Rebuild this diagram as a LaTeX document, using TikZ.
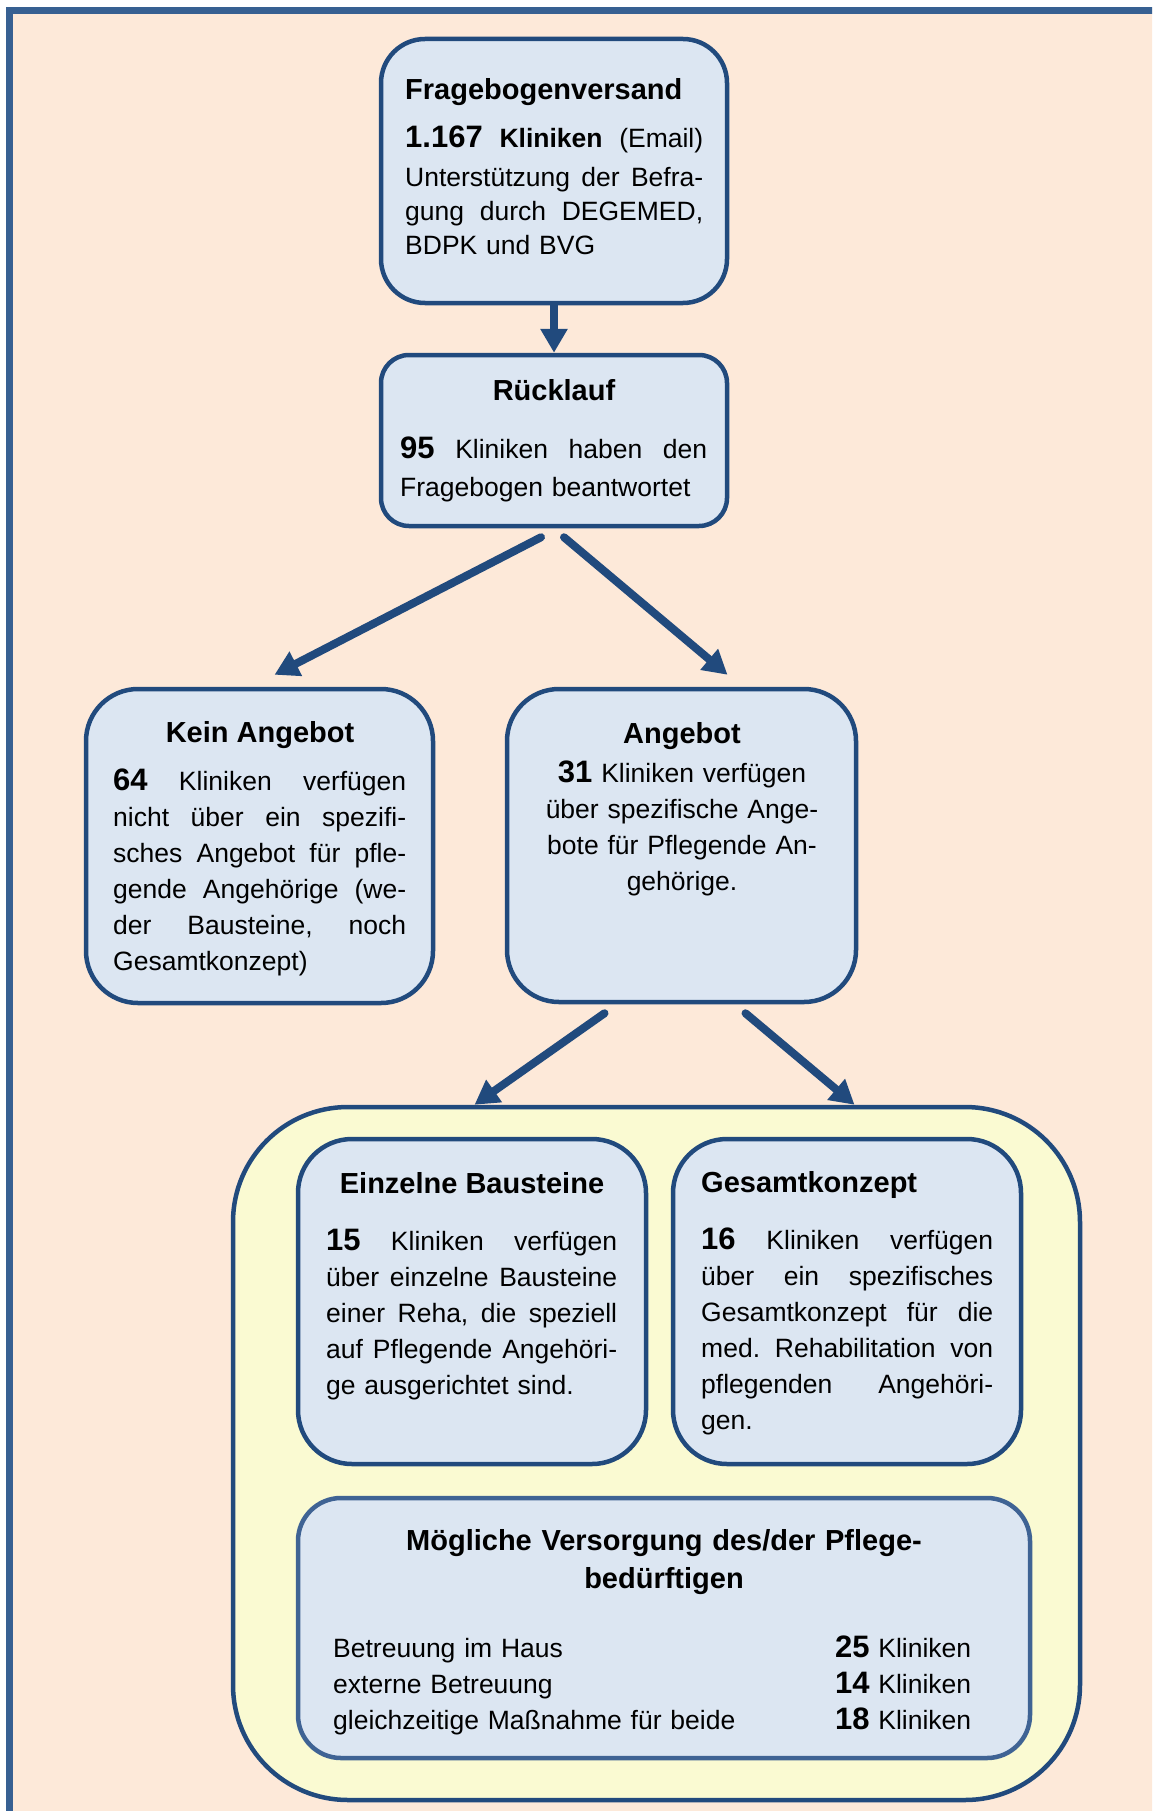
\documentclass[tikz,border=0pt]{standalone}
\usepackage{fontspec}
\setmainfont{Liberation Sans}
\usetikzlibrary{positioning,calc,arrows.meta}

\definecolor{hintergrund}{RGB}{253,233,217}
\definecolor{rahmen}{RGB}{55,96,146}
\definecolor{kastenblau}{RGB}{220,230,242}
\definecolor{randblau}{RGB}{33,74,125}
\definecolor{versorgblau}{RGB}{63,99,148}
\definecolor{gruppengelb}{RGB}{250,250,210}

\newlength{\zeile}
\newcommand{\bignum}[1]{{\fontsize{31}{36}\selectfont\bfseries #1}}
\newcommand{\fullline}[1]{\leavevmode\hbox to \zeile{#1}}
\frenchspacing

\begin{document}
\begin{tikzpicture}[x=1pt,y=-1pt,
  box/.style={rectangle,draw=randblau,line width=4.5pt,fill=kastenblau},
  titel/.style={font=\fontsize{29}{38}\selectfont\bfseries,inner sep=0pt},
  txt/.style={font=\fontsize{26.5}{36}\selectfont,inner sep=0pt,align=left,
    text width=#1,execute at begin node={\setlength{\zeile}{#1}}},
  pfeil/.style={draw=randblau,line width=8pt,line cap=round,-{Triangle[length=24pt,width=26pt]}}]
\useasboundingbox (0,0) rectangle (1152,1811);
\clip (0,0) rectangle (1152,1811);
\fill[white] (0,0) rectangle (1152,1811);
\fill[hintergrund] (6,7) rectangle (1170,1830);
\draw[rahmen,line width=7pt] (9.5,1830) -- (9.5,10.5) -- (1170,10.5);

\node[box,rounded corners=44pt,minimum width=346pt,minimum height=264pt] (frage) at (554,171) {};
\node[box,rounded corners=28pt,minimum width=346pt,minimum height=171pt] (ruecklauf) at (554,440.5) {};
\node[box,rounded corners=52pt,minimum width=347pt,minimum height=314pt] (kein) at (259.5,846) {};
\node[box,rounded corners=52pt,minimum width=349pt,minimum height=313pt] (angebot) at (681.5,845.5) {};
\node[box,fill=gruppengelb,rounded corners=115pt,minimum width=847pt,minimum height=693pt] (gruppe) at (656.5,1453.5) {};
\node[box,rounded corners=54pt,minimum width=348pt,minimum height=325pt] (bausteine) at (472,1301.5) {};
\node[box,rounded corners=54pt,minimum width=348pt,minimum height=325pt] (konzept) at (847,1301.5) {};
\node[box,draw=versorgblau,rounded corners=43pt,minimum width=732pt,minimum height=260pt] (versorgung) at (664,1628) {};

\node[titel,anchor=base west] (frage-titel) at (405,100) {Fragebogenversand};
\node[txt=298pt,font=\fontsize{26.5}{34}\selectfont,anchor=base west] (frage-text) at (405,148)
  {\fullline{\bignum{1.167}\hfill\textbf{Kliniken}\hfill(Email)}\\[5pt]
   \fullline{Unterstützung\hfill der\hfill Befra-}\\
   \fullline{gung\hfill durch\hfill DEGEMED,}\\
   BDPK und BVG};

\node[titel,anchor=base] (ruecklauf-titel) at (554,400) {Rücklauf};
\node[txt=307pt,font=\fontsize{26.5}{38}\selectfont,anchor=base west] (ruecklauf-text) at (400,458)
  {\fullline{\bignum{95}\hfill Kliniken\hfill haben\hfill den}\\
   Fragebogen beantwortet};

\node[titel,anchor=base] (kein-titel) at (260,742) {Kein Angebot};
\node[txt=293pt,anchor=base west] (kein-text) at (113,790)
  {\fullline{\bignum{64}\hfill Kliniken\hfill verfügen}\\
   \fullline{nicht\hfill über\hfill ein\hfill spezifi-}\\
   \fullline{sches\hfill Angebot\hfill für\hfill pfle-}\\
   \fullline{gende\hfill Angehörige\hfill (we-}\\
   \fullline{der\hfill Bausteine,\hfill noch}\\
   Gesamtkonzept)};

\node[titel,anchor=base] (angebot-titel) at (682,743) {Angebot};
\node[txt=300pt,align=center,anchor=base] (angebot-text) at (682,782)
  {\bignum{31} Kliniken verfügen\\
   über spezifische Ange-\\
   bote für Pflegende An-\\
   gehörige.};

\node[titel,anchor=base] (bausteine-titel) at (472,1193) {Einzelne Bausteine};
\node[txt=291pt,anchor=base west] (bausteine-text) at (326,1250)
  {\fullline{\bignum{15}\hfill Kliniken\hfill verfügen}\\
   \fullline{über\hfill einzelne\hfill Bausteine}\\
   \fullline{einer\hfill Reha,\hfill die\hfill speziell}\\
   \fullline{auf\hfill Pflegende\hfill Angehöri-}\\
   ge ausgerichtet sind.};

\node[titel,anchor=base west] (konzept-titel) at (701,1192) {Gesamtkonzept};
\node[txt=292pt,anchor=base west] (konzept-text) at (701,1249)
  {\fullline{\bignum{16}\hfill Kliniken\hfill verfügen}\\
   \fullline{über\hfill ein\hfill spezifisches}\\
   \fullline{Gesamtkonzept\hfill für\hfill die}\\
   \fullline{med.\hfill Rehabilitation\hfill von}\\
   \fullline{pflegenden\hfill Angehöri-}\\
   gen.};

\node[titel,align=center,text width=640pt,anchor=base] (versorgung-titel) at (664,1550)
  {Mögliche Versorgung des/der Pflege-\\bedürftigen};
\node[txt=638pt,anchor=base west] (versorgung-liste) at (333,1657)
  {\fullline{Betreuung im Haus\hfill\bignum{25} Kliniken}\\
   \fullline{externe Betreuung\hfill\bignum{14} Kliniken}\\
   \fullline{gleichzeitige Maßnahme für beide\hfill\bignum{18} Kliniken}};

\draw[pfeil] (frage.south) -- (ruecklauf.north);
\draw[pfeil] ($(ruecklauf.south)+(-13,9)$) -- ($(kein.north)+(15,-12)$);
\draw[pfeil] ($(ruecklauf.south)+(10,9)$) -- ($(angebot.north)+(46,-12)$);
\draw[pfeil] ($(angebot.south)+(-77,9)$) -- ($(gruppe.north)+(-182,0)$);
\draw[pfeil] ($(angebot.south)+(64,9)$) -- ($(gruppe.north)+(198,0)$);
\end{tikzpicture}
\end{document}
